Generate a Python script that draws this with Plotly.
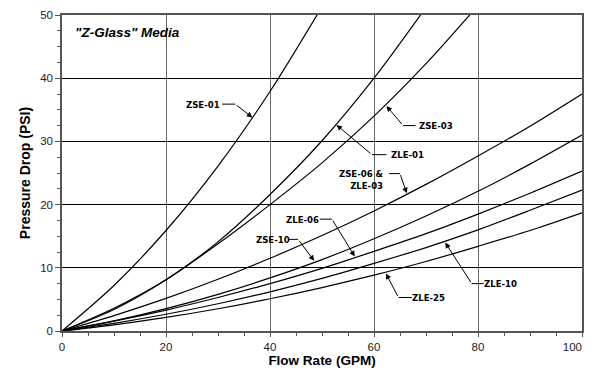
import plotly.graph_objects as go

flow = [0, 10, 20, 30, 40, 50, 60, 70, 80, 90, 100]
x_ticks = [0, 20, 40, 60, 80, 100]
x_tick_text = ["0", "20", "40", "60", "80", "100\u00a0\u00a0\u00a0\u00a0\u00a0\u00a0"]

zse_01 = [0, 7.2, 15.9, 26.1, 37.9, 51.3]
zle_01 = [0, 3.4, 8.1, 14.1, 21.6, 30.1, 40.0, 51.2]
zse_03 = [0, 3.6, 8.1, 13.8, 20.0, 26.6, 34.0, 42.3, 51.5]
zse_06_zle_03 = [0, 2.44, 5.16, 8.18, 11.5, 15.1, 19.0, 23.2, 27.7, 32.4, 37.5]
zse_10 = [0, 1.60, 3.53, 5.80, 8.40, 11.3, 14.6, 18.2, 22.1, 26.4, 31.0]
zle_06 = [0, 1.55, 3.31, 5.30, 7.50, 9.92, 12.6, 15.4, 18.5, 21.8, 25.3]
zle_10 = [0, 1.21, 2.65, 4.31, 6.20, 8.32, 10.7, 13.2, 16.0, 19.1, 22.3]
zle_25 = [0, 0.98, 2.15, 3.52, 5.10, 6.87, 8.84, 11.0, 13.4, 15.9, 18.7]

series = [
    ("ZSE-01", zse_01),
    ("ZLE-01", zle_01),
    ("ZSE-03", zse_03),
    ("ZSE-06 & ZLE-03", zse_06_zle_03),
    ("ZSE-10", zse_10),
    ("ZLE-06", zle_06),
    ("ZLE-10", zle_10),
    ("ZLE-25", zle_25),
]

# label text, text position, leader start, bend, arrow tip (data coords)
labels = [
    ("ZSE-01", (27.1, 35.9), (30.8, 35.9), (33.3, 35.9), (36.6, 33.8), "center"),
    ("ZLE-01", (62.8, 27.9), (62.4, 27.9), (59.6, 27.9), (52.8, 32.6), "left"),
    ("ZSE-03", (68.3, 32.5), (68.0, 32.5), (65.6, 32.5), (62.4, 35.6), "left"),
    ("ZSE-06 &<br>ZLE-03", (62.3, 23.9), (62.9, 24.9), (65.0, 24.9), (66.3, 21.8), "right"),
    ("ZSE-10", (40.6, 14.5), (43.6, 14.5), (45.4, 14.5), (48.5, 11.1), "center"),
    ("ZLE-06", (46.3, 17.7), (49.6, 17.7), (51.9, 17.7), (56.3, 11.8), "center"),
    ("ZLE-10", (80.8, 7.5), (81.1, 7.5), (78.8, 7.5), (73.7, 14.0), "left"),
    ("ZLE-25", (67.0, 5.3), (67.3, 5.3), (64.7, 5.3), (62.3, 9.1), "left"),
]

fig = go.Figure()
for name, vals in series:
    fig.add_trace(go.Scatter(
        x=flow[:len(vals)], y=vals, mode="lines", name=name,
        line=dict(color="black", width=1.2, shape="spline", smoothing=0.8),
        showlegend=False, hoverinfo="skip"))

label_font = dict(family="Liberation Sans Narrow, Arial Narrow, DejaVu Sans Condensed, sans-serif",
                  size=9.5, color="black")
for text, tpos, lstart, bend, tip, anchor in labels:
    fig.add_shape(type="line", x0=lstart[0], y0=lstart[1], x1=bend[0], y1=bend[1],
                  xref="x", yref="y", line=dict(color="black", width=1))
    fig.add_annotation(x=tip[0], y=tip[1], ax=bend[0], ay=bend[1], axref="x", ayref="y",
                       xref="x", yref="y", text="", showarrow=True,
                       arrowhead=2, arrowsize=1.1, arrowwidth=1, arrowcolor="black",
                       standoff=0, startstandoff=0)
    fig.add_annotation(x=tpos[0], y=tpos[1], xref="x", yref="y",
                       text="<b>" + text + "</b>", showarrow=False,
                       xanchor=anchor, yanchor="middle", align="right",
                       font=label_font)

fig.add_annotation(x=2.1, y=47.2, xref="x", yref="y", xanchor="left", yanchor="middle",
                   text="<b><i>\"Z-Glass\" Media</i></b>", showarrow=False,
                   font=dict(family="Liberation Sans, Arial, sans-serif", size=13.5, color="black"))

fig.update_xaxes(
    range=[0, 100], tickvals=x_ticks, ticktext=x_tick_text,
    automargin=False, ticklabeloverflow="allow",
    showgrid=True, gridcolor="#666666", gridwidth=1.2,
    showline=True, linecolor="#555555", linewidth=1.5, mirror=True,
    ticks="outside", ticklen=4, tickcolor="#555555",
    minor=dict(dtick=5, ticks="outside", ticklen=3, tickcolor="#555555", showgrid=False),
    zeroline=False,
    title=dict(text="<b>Flow Rate (GPM)</b>", standoff=4,
               font=dict(family="Liberation Sans, Arial, sans-serif", size=13.5, color="black")),
    tickfont=dict(family="Liberation Sans, Arial, sans-serif", size=11.5, color="#222222"),
)
fig.update_yaxes(
    range=[0, 50], tickvals=[0, 10, 20, 30, 40, 50], automargin=False,
    showgrid=True, gridcolor="black", gridwidth=1,
    showline=True, linecolor="#555555", linewidth=1.5, mirror=True,
    ticks="outside", ticklen=5, tickcolor="#555555",
    minor=dict(dtick=2.5, ticks="outside", ticklen=3, tickcolor="#555555", showgrid=False),
    zeroline=False,
    title=dict(text="<b>Pressure Drop (PSI)</b>", standoff=6,
               font=dict(family="Liberation Sans, Arial, sans-serif", size=14, color="black")),
    tickfont=dict(family="Liberation Sans, Arial, sans-serif", size=11.5, color="#222222"),
)

fig.update_layout(
    width=585, height=365,
    margin=dict(l=54, r=11, t=7, b=42),
    paper_bgcolor="white", plot_bgcolor="white",
)

fig.write_html("out.html")
